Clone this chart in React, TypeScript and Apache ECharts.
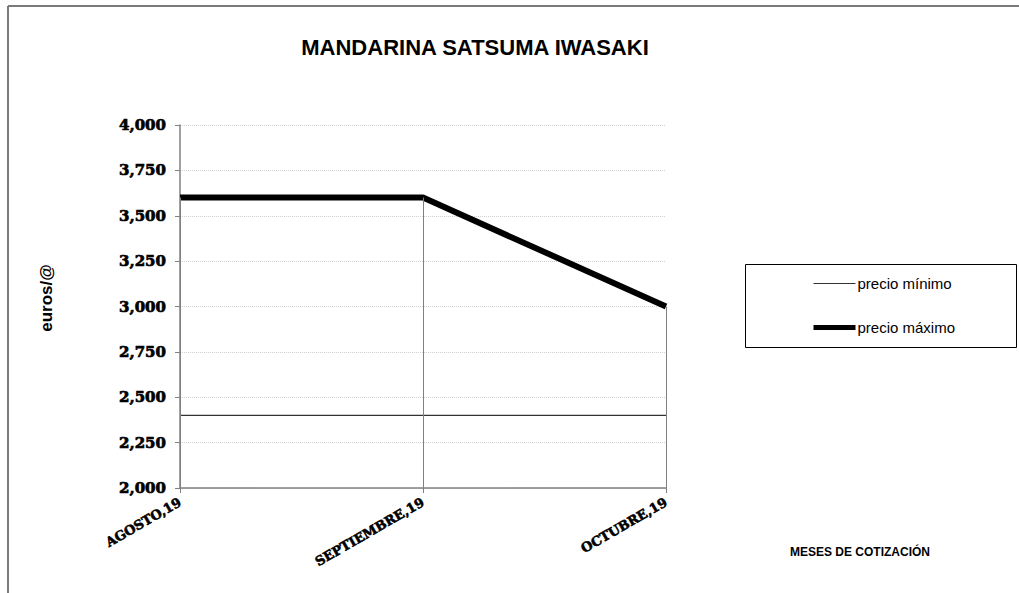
import React, { useEffect, useRef } from "react";
import * as echarts from "echarts";

const categories = ["AGOSTO,19", "SEPTIEMBRE,19", "OCTUBRE,19"];
const precioMinimo = [2.4, 2.4, 2.4];
const precioMaximo = [3.6, 3.6, 3.0];
const yMin = 2;
const yMax = 4;
const yInterval = 0.25;
const titleText = "MANDARINA SATSUMA IWASAKI";
const yName = "euros/@";
const xName = "MESES DE COTIZACIÓN";
const seriesNames = ["precio mínimo", "precio máximo"];

export default function App() {
  const ref = useRef<HTMLDivElement>(null);
  useEffect(() => {
    document.body.style.margin = "0";
    if (!ref.current) return;
    const chart = echarts.init(ref.current, null, { renderer: "svg" });
    const serif = "DejaVu Serif";
    const sans = "Liberation Sans, Arial, sans-serif";
    chart.setOption({
      animation: false,
      backgroundColor: "#ffffff",
      grid: { left: 180, right: 353, top: 125, bottom: 105, containLabel: false },
      xAxis: {
        type: "category",
        data: categories,
        boundaryGap: false,
        axisLine: { show: true, lineStyle: { color: "#808080", width: 1.5 } },
        axisTick: { show: true, length: 5, lineStyle: { color: "#808080" } },
        splitLine: { show: false },
        axisLabel: {
          rotate: 30,
          margin: 13,
          color: "#000",
          fontFamily: serif,
          fontWeight: "bold",
          fontSize: 13,
          textBorderColor: "#000",
          textBorderWidth: 0.6,
          interval: 0,
        },
      },
      yAxis: {
        type: "value",
        min: yMin,
        max: yMax,
        interval: yInterval,
        axisLine: { show: true, lineStyle: { color: "#808080", width: 1.5 } },
        axisTick: { show: true, length: 5, lineStyle: { color: "#808080" } },
        splitLine: { show: true, lineStyle: { color: "#d0d0d0", type: "dotted", width: 1 } },
        axisLabel: {
          margin: 14,
          color: "#000",
          fontFamily: serif,
          fontWeight: "bold",
          fontSize: 15,
          textBorderColor: "#000",
          textBorderWidth: 0.7,
          formatter: (v: number) => v.toFixed(3).replace(".", ","),
        },
      },
      legend: {
        orient: "vertical",
        left: 811,
        top: 276,
        padding: 0,
        itemWidth: 42,
        itemHeight: 14,
        itemGap: 29,
        itemStyle: { opacity: 0 },
        data: [
          { name: seriesNames[0], lineStyle: { width: 1, color: "#333" } },
          { name: seriesNames[1], lineStyle: { width: 5, color: "#000" } },
        ],
        textStyle: { color: "#000", fontFamily: sans, fontSize: 15, padding: [0, 0, 0, -3] },
      },
      series: [
        {
          name: seriesNames[0],
          type: "line",
          data: precioMinimo,
          symbol: "none",
          lineStyle: { color: "#333", width: 1.2 },
          itemStyle: { color: "#333" },
          z: 3,
        },
        {
          name: seriesNames[1],
          type: "line",
          data: precioMaximo,
          symbol: "none",
          lineStyle: { color: "#000", width: 6 },
          itemStyle: { color: "#000" },
          z: 4,
          markLine: {
            silent: true,
            symbol: "none",
            label: { show: false },
            lineStyle: { color: "#808080", width: 1, type: "solid" },
            data: precioMaximo.map((v, i) => [
              { coord: [i, v] },
              { coord: [i, yMin] },
            ]),
          },
        },
      ],
      graphic: [
        {
          type: "line",
          shape: { x1: 8, y1: 6, x2: 1019, y2: 6 },
          style: { stroke: "#7a7a7a", lineWidth: 2 },
        },
        {
          type: "line",
          shape: { x1: 8, y1: 6, x2: 8, y2: 593 },
          style: { stroke: "#7a7a7a", lineWidth: 2 },
        },
        {
          type: "rect",
          shape: { x: 745.5, y: 264.5, width: 271, height: 83 },
          style: { fill: "none", stroke: "#000", lineWidth: 1 },
        },
        {
          type: "text",
          x: 475,
          y: 47,
          style: {
            text: titleText,
            fill: "#000",
            font: "bold 22px Liberation Sans, Arial, sans-serif",
            textAlign: "center",
            textVerticalAlign: "middle",
          },
        },
        {
          type: "text",
          x: 46,
          y: 298,
          rotation: Math.PI / 2,
          style: {
            text: yName,
            fill: "#000",
            font: "bold 17px Liberation Sans, Arial, sans-serif",
            textAlign: "center",
            textVerticalAlign: "middle",
          },
        },
        {
          type: "text",
          x: 860,
          y: 552,
          style: {
            text: xName,
            fill: "#000",
            font: "bold 12px Liberation Sans, Arial, sans-serif",
            textAlign: "center",
            textVerticalAlign: "middle",
          },
        },
      ],
    });
    return () => chart.dispose();
  }, []);
  return <div ref={ref} style={{ width: 1019, height: 593 }} />;
}
